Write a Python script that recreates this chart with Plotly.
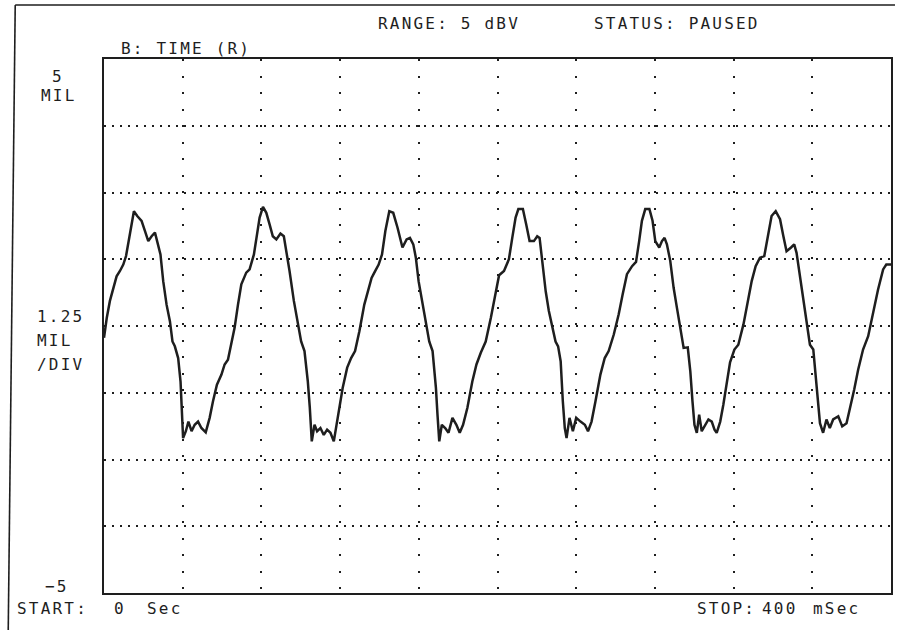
import plotly.graph_objects as go

# ---- data (time in ms, displacement in mil) ----
t_ms = [0.0, 1.4, 3.0, 4.4, 6.4, 8.1, 9.8, 11.2, 12.3, 13.5, 15.2, 16.9, 19.1, 20.8, 22.5, 24.2, 25.9, 27.0, 28.7, 30.1,
        31.8, 33.5, 34.8, 36.0, 37.7, 38.9, 39.5, 40.2, 41.6, 42.9, 44.5, 46.1, 47.8, 49.5, 51.7, 53.7, 55.4, 57.4, 59.7, 61.3,
        63.0, 64.7, 66.4, 68.1, 69.8, 72.3, 74.0, 76.2, 77.9, 79.1, 80.8, 82.5, 84.2, 85.8, 87.6, 89.7, 91.4, 92.6, 94.3, 96.5,
        98.5, 100.2, 101.9, 103.6, 104.6, 105.6, 107.0, 108.3, 110.0, 111.7, 113.4, 115.1, 116.8, 118.0, 119.7, 121.3, 123.6, 125.6, 127.6, 129.8,
        132.3, 134.0, 136.0, 137.4, 139.6, 141.3, 143.0, 145.0, 147.0, 149.2, 151.7, 153.8, 155.5, 157.2, 158.5, 159.9, 161.9, 163.9, 165.3, 167.0,
        168.7, 169.5, 170.4, 171.7, 173.4, 175.1, 177.1, 179.1, 180.8, 182.5, 184.7, 187.2, 189.3, 191.5, 194.0, 196.6, 198.7, 200.8, 203.3, 205.8,
        207.5, 209.2, 210.6, 212.9, 214.6, 216.3, 218.5, 220.2, 221.4, 222.7, 224.5, 226.1, 227.8, 229.5, 230.8, 232.1, 233.2, 234.2, 235.1, 236.6,
        238.3, 240.0, 242.2, 244.4, 246.0, 247.8, 249.8, 252.3, 254.5, 256.5, 259.1, 261.6, 263.6, 265.8, 268.4, 270.4, 272.0, 273.4, 275.1, 277.2,
        278.8, 280.2, 282.2, 283.6, 284.9, 286.1, 287.8, 289.5, 291.2, 292.9, 294.6, 296.7, 298.0, 299.1, 300.1, 301.3, 302.5, 303.8, 305.9, 307.2,
        308.9, 310.3, 311.4, 313.2, 314.8, 316.5, 318.2, 320.4, 322.4, 325.0, 327.2, 329.2, 331.2, 333.4, 335.6, 337.7, 339.3, 341.4, 343.6, 345.3,
        346.9, 349.2, 350.8, 352.0, 353.7, 355.4, 357.1, 358.8, 360.5, 361.6, 362.7, 363.9, 365.5, 367.2, 368.9, 370.6, 373.2, 375.2, 377.4, 379.1,
        381.3, 383.3, 385.8, 388.4, 390.9, 393.4, 396.0, 397.6, 400.0]
disp_mil = [-0.22, 0.15, 0.47, 0.68, 0.93, 1.03, 1.15, 1.31, 1.53, 1.84, 2.15, 2.06, 1.97, 1.78, 1.59, 1.68, 1.75, 1.59, 1.34, 0.84,
            0.40, 0.09, -0.29, -0.38, -0.60, -1.04, -1.60, -2.10, -1.97, -1.79, -1.97, -1.85, -1.79, -1.91, -1.99, -1.72, -1.41, -1.10, -0.91, -0.72,
            -0.63, -0.35, -0.03, 0.40, 0.78, 1.00, 1.06, 1.34, 1.72, 2.03, 2.23, 2.12, 1.90, 1.68, 1.62, 1.73, 1.68, 1.44, 1.03, 0.47,
            0.09, -0.29, -0.47, -1.04, -1.53, -2.16, -1.85, -1.97, -1.91, -2.04, -1.94, -2.00, -2.16, -1.91, -1.53, -1.16, -0.78, -0.60, -0.47, -0.10,
            0.40, 0.65, 0.90, 1.00, 1.15, 1.34, 1.78, 2.15, 2.12, 1.84, 1.47, 1.62, 1.65, 1.53, 1.28, 0.84, 0.40, -0.03, -0.29, -0.47,
            -1.16, -1.66, -2.16, -1.85, -1.91, -2.00, -1.72, -1.85, -2.00, -1.85, -1.53, -1.04, -0.72, -0.50, -0.29, 0.15, 0.59, 0.95, 1.03, 1.25,
            1.65, 2.03, 2.19, 2.19, 1.90, 1.59, 1.59, 1.68, 1.65, 1.22, 0.65, 0.28, -0.03, -0.29, -0.38, -0.66, -1.41, -1.91, -2.10, -1.72,
            -1.97, -1.72, -1.79, -1.85, -1.97, -1.79, -1.41, -0.91, -0.60, -0.47, -0.16, 0.22, 0.59, 0.97, 1.12, 1.20, 1.59, 1.97, 2.19, 2.19,
            1.97, 1.59, 1.47, 1.59, 1.65, 1.53, 1.22, 0.72, 0.34, -0.03, -0.41, -0.40, -0.85, -1.41, -1.85, -2.00, -1.66, -1.97, -1.85, -1.75,
            -1.79, -1.94, -2.00, -1.79, -1.47, -1.04, -0.68, -0.44, -0.35, 0.03, 0.47, 0.84, 1.12, 1.28, 1.31, 1.72, 2.06, 2.15, 2.00, 1.68,
            1.40, 1.47, 1.53, 1.37, 0.93, 0.50, 0.06, -0.35, -0.44, -0.94, -1.44, -1.82, -2.00, -1.75, -1.91, -1.75, -1.69, -1.88, -1.82, -1.57,
            -1.19, -0.82, -0.44, -0.19, 0.25, 0.68, 1.06, 1.15, 1.15]

x_start_ms, x_stop_ms, x_div_ms = 0, 400, 40
y_min_mil, y_max_mil, y_div_mil = -5, 5, 1.25

header_range = "RANGE: 5 dBV"
header_status = "STATUS: PAUSED"
trace_title = "B: TIME (R)"
y_top_label = ["5", "MIL"]
y_scale_label = ["1.25", "MIL", "/DIV"]
y_bottom_label = "\u22125"
start_label = ["START:", "0", "Sec"]
stop_label = ["STOP:", "400", "mSec"]

# ---- layout geometry (pixels) ----
W, H = 897, 630
L, R, T, B = 104, 893, 59, 593
INK = "#1e1e1e"
FONT = "DejaVu Sans Mono"


def px(x):
    return (x - L) / (R - L)


def py(y):
    return (B - y) / (B - T)


def sp(s, ls=2.2):
    return '<span style="letter-spacing:%spx">%s</span>' % (ls, s)


fig = go.Figure()
fig.add_trace(go.Scatter(x=t_ms, y=disp_mil, mode="lines",
                         line=dict(color=INK, width=2.5), hoverinfo="skip",
                         showlegend=False))

ann = []


def text(s, x, y, size=16, anchor="left"):
    ann.append(dict(text=sp(s), x=px(x), y=py(y), xref="paper", yref="paper",
                    xanchor=anchor, yanchor="middle", showarrow=False,
                    font=dict(family=FONT, size=size, color=INK)))


text(header_range, 377, 23)
text(header_status, 593, 23)
text(trace_title, 119, 49)
text(y_top_label[0], 58, 77, anchor="center")
text(y_top_label[1], 59, 96, anchor="center")
text(y_scale_label[0], 35, 316)
text(y_scale_label[1], 35, 340)
text(y_scale_label[2], 35, 364)
text(y_bottom_label, 57, 586, anchor="center")
text(start_label[0], 15, 608)
text(start_label[1], 112, 608)
text(start_label[2], 145, 608)
text(stop_label[0], 697, 608)
text(stop_label[1], 762, 608)
text(stop_label[2], 813, 608)

shapes = [
    # outer frame (left and top edges of the display box)
    dict(type="line", xref="paper", yref="paper", x0=px(15), y0=py(5), x1=px(8), y1=py(630),
         line=dict(color=INK, width=1.6)),
    dict(type="line", xref="paper", yref="paper", x0=px(15), y0=py(5), x1=px(897), y1=py(5),
         line=dict(color=INK, width=1.6)),
]

fig.update_layout(
    width=W, height=H,
    margin=dict(l=L, r=W - R, t=T, b=H - B, pad=0),
    paper_bgcolor="white", plot_bgcolor="white",
    annotations=ann, shapes=shapes,
    xaxis=dict(range=[x_start_ms, x_stop_ms], tick0=x_start_ms, dtick=x_div_ms,
               showticklabels=False, ticks="", zeroline=False,
               showgrid=True, gridcolor=INK, gridwidth=2, griddash="2px,14.5px",
               showline=True, linecolor=INK, linewidth=1.8, mirror=True),
    yaxis=dict(range=[y_min_mil, y_max_mil], tick0=y_min_mil, dtick=y_div_mil,
               showticklabels=False, ticks="", zeroline=False,
               showgrid=True, gridcolor=INK, gridwidth=2, griddash="2px,6px",
               showline=True, linecolor=INK, linewidth=1.8, mirror=True),
)

fig.write_html("out.html")
